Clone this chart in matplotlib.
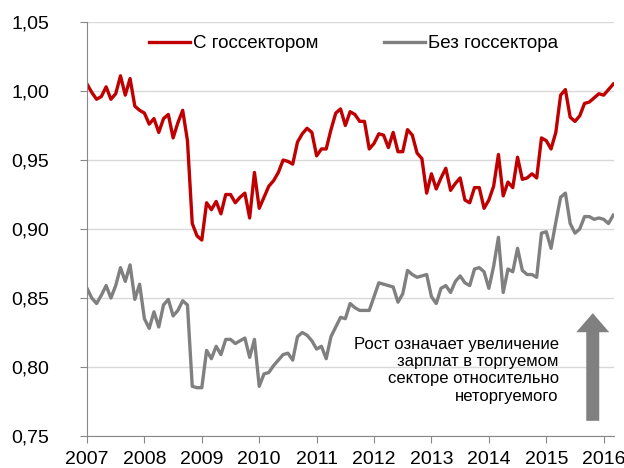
import numpy as np
import matplotlib
matplotlib.use("Agg")
import matplotlib.pyplot as plt
from matplotlib.ticker import FuncFormatter
from matplotlib.patches import FancyArrow

plt.rcParams['font.family'] = ['Liberation Sans', 'DejaVu Sans']

# monthly index, Jan 2007 .. Mar 2016
with_gov = [1.005, 0.999, 0.994, 0.996, 1.003, 0.994, 0.998, 1.011, 0.997, 1.009, 0.989, 0.986,
            0.984, 0.976, 0.980, 0.970, 0.980, 0.983, 0.966, 0.977, 0.986, 0.964, 0.904, 0.895,
            0.892, 0.919, 0.914, 0.920, 0.911, 0.925, 0.925, 0.919, 0.923, 0.926, 0.908, 0.941,
            0.915, 0.923, 0.931, 0.935, 0.941, 0.950, 0.949, 0.947, 0.963, 0.969, 0.973, 0.970,
            0.953, 0.958, 0.958, 0.972, 0.984, 0.987, 0.975, 0.985, 0.983, 0.978, 0.978, 0.958,
            0.962, 0.969, 0.968, 0.959, 0.970, 0.956, 0.956, 0.972, 0.968, 0.955, 0.951, 0.926,
            0.940, 0.929, 0.937, 0.944, 0.928, 0.933, 0.937, 0.921, 0.919, 0.930, 0.930, 0.915,
            0.921, 0.931, 0.954, 0.924, 0.934, 0.930, 0.952, 0.936, 0.937, 0.940, 0.937, 0.966,
            0.964, 0.958, 0.970, 0.997, 1.001, 0.981, 0.978, 0.982, 0.991, 0.992, 0.995, 0.998,
            0.997, 1.001, 1.005]

without_gov = [0.857, 0.850, 0.846, 0.852, 0.859, 0.850, 0.859, 0.872, 0.862, 0.874, 0.849, 0.860,
               0.835, 0.828, 0.840, 0.829, 0.845, 0.849, 0.837, 0.841, 0.848, 0.845, 0.786, 0.785,
               0.785, 0.812, 0.806, 0.815, 0.809, 0.820, 0.820, 0.817, 0.819, 0.821, 0.807, 0.820,
               0.786, 0.795, 0.796, 0.801, 0.805, 0.809, 0.810, 0.805, 0.822, 0.825, 0.823, 0.819,
               0.813, 0.815, 0.806, 0.822, 0.829, 0.836, 0.835, 0.846, 0.843, 0.841, 0.841, 0.841,
               0.851, 0.861, 0.860, 0.859, 0.858, 0.847, 0.853, 0.870, 0.867, 0.865, 0.866, 0.867,
               0.851, 0.846, 0.857, 0.859, 0.854, 0.862, 0.866, 0.861, 0.859, 0.871, 0.872, 0.869,
               0.857, 0.873, 0.894, 0.854, 0.871, 0.869, 0.886, 0.870, 0.867, 0.867, 0.865, 0.897,
               0.898, 0.886, 0.905, 0.923, 0.926, 0.904, 0.897, 0.900, 0.909, 0.909, 0.907, 0.908,
               0.907, 0.904, 0.910]

years = list(range(2007, 2017))
y_ticks = [0.75, 0.80, 0.85, 0.90, 0.95, 1.00, 1.05]

x = 2007 + np.arange(len(with_gov)) / 12

fig = plt.figure(figsize=(6.24, 4.68), dpi=100)
ax = fig.add_axes([87/624, 1 - 436/468, (614-87)/624, (436-22)/468])

ax.plot(x, with_gov, color='#C00000', lw=2.4, label='С госсектором', solid_joinstyle='round')
ax.plot(x, without_gov, color='#808080', lw=2.4, label='Без госсектора', solid_joinstyle='round')

ax.set_xlim(2007, 2016.18)
ax.set_ylim(0.75, 1.05)
ax.set_xticks(years)
ax.set_yticks(y_ticks)
ax.yaxis.set_major_formatter(FuncFormatter(lambda v, p: f"{v:.2f}".replace('.', ',')))

ax.grid(axis='y', color='#d9d9d9', lw=1)
ax.set_axisbelow(True)
for s in ['top', 'right']:
    ax.spines[s].set_visible(False)
for s in ['left', 'bottom']:
    ax.spines[s].set_color('#888888')
ax.tick_params(axis='both', colors='#888888', labelcolor='black', labelsize=14, length=5, direction='out')
ax.tick_params(axis='y', pad=22)
ax.tick_params(axis='x', pad=6)

ax.legend(loc='upper center', bbox_to_anchor=(0.505, 1.0), ncol=2, frameon=False, fontsize=13.5,
          handlelength=2.2, handletextpad=0.15, columnspacing=3.5, borderaxespad=0.3)

ax.text(0.895, 0.159,
        'Рост означает увеличение\nзарплат в торгуемом\nсекторе относительно\nнеторгуемого',
        transform=ax.transAxes, ha='right', va='center', fontsize=12, linespacing=1.2)

arrow = FancyArrow(2015.81, 0.761, 0, 0.078, width=0.226, head_width=0.575, head_length=0.0138,
                   length_includes_head=True, color='#808080', lw=0)
ax.add_patch(arrow)

fig.savefig('out.png', dpi=100)
